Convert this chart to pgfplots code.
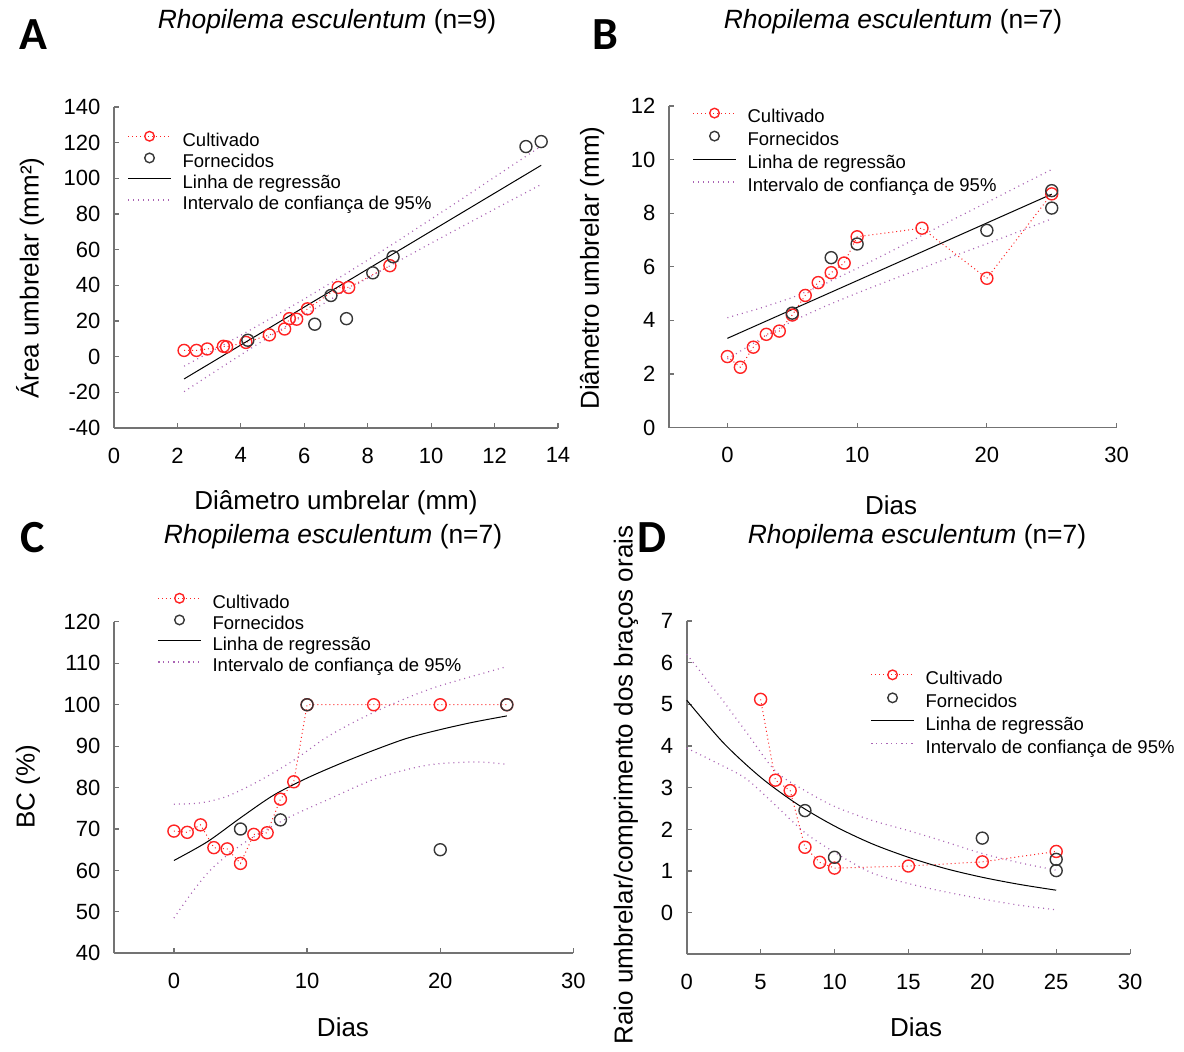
\documentclass[border=0pt]{standalone}
\usepackage{fontspec}
\setmainfont{Liberation Sans}
\newfontfamily\letterfont{Carlito}
\usepackage{pgfplots}
\pgfplotsset{compat=1.18}
\definecolor{cired}{RGB}{255,35,35}
\definecolor{cigray}{RGB}{55,55,55}
\definecolor{cipurp}{RGB}{170,100,180}
\definecolor{axgray}{RGB}{115,115,115}
\pgfplotsset{
  panel/.style={
    scale only axis, axis lines=left, axis line style={-, axgray, line width=0.9pt},
    tick align=inside, major tick length=2.5pt,
    every tick/.style={axgray, line width=0.6pt},
    tick label style={font=\fontsize{11}{12}\selectfont, black},
    /pgf/number format/assume math mode=true,
    xticklabel style={yshift=-6.3pt}, yticklabel style={xshift=-3.3pt},
    legend cell align=left,
    legend style={draw=none, fill=none, inner sep=0pt, anchor=north west,
      font=\fontsize{9.25}{11}\selectfont, row sep=0pt,
      nodes={inner sep=0pt, text height=7pt, text depth=3.5pt},
      /tikz/every odd column/.append style={column sep=5.5pt}},
    legend image code/.code={\draw[mark repeat=2,mark phase=2,##1,mark size=2.4pt] plot coordinates {(0pt,3.2pt) (10.75pt,3.2pt) (21.5pt,3.2pt)};},
    clip=false,
  },
  cult/.style={cired, line width=0.5pt, dash pattern=on 0.5pt off 1.5pt, mark=o, mark size=3pt, mark options={solid, line width=0.7pt}},
  forn/.style={cigray, only marks, mark=o, mark size=3pt, mark options={solid, line width=0.7pt}},
  regl/.style={black, line width=0.5pt, no marks, solid},
  cil/.style={cipurp, line width=0.6pt, dash pattern=on 0.5pt off 2pt, no marks},
}
\begin{document}
\begin{tikzpicture}
\path[use as bounding box] (0,0) rectangle (592pt,526pt);
% ---------------- A ----------------
\begin{axis}[panel, at={(57pt,312pt)}, anchor=south west, width=222pt, height=160.5pt,
  xmin=0, xmax=14, ymin=-40, ymax=140, xtick={0,2,...,14}, ytick={-40,-20,...,140},
  legend style={at={(0.0293,0.925)}}]
\addplot[cult] coordinates {(2.21,3.5)(2.6,3.5)(2.94,4.3)(3.45,5.8)(3.55,5.5)(4.16,8.0)(4.9,12.2)(5.38,15.5)(5.53,21.3)(5.76,21.0)(6.1,26.8)(7.07,38.8)(7.4,38.8)(8.7,51.0)};
\addlegendentry{Cultivado}
\addplot[forn] coordinates {(4.22,9.2)(6.33,18.2)(6.84,34.3)(7.33,21.3)(8.16,47)(8.8,56)(12.99,117.8)(13.47,120.6)};
\addlegendentry{Fornecidos}
\addplot[regl] coordinates {(2.21,-12.5)(13.47,107.3)};
\addlegendentry{Linha de regressão}
\addplot[cil] coordinates {(2.21,-5.35)(3,2.26)(4,11.98)(5,22.03)(6,32.32)(7,43.1)(8,54.16)(9,65.5)(10,77.15)(11,88.82)(12,100.67)(13.47,118.04)};
\addlegendentry{Intervalo de confiança de 95\%}
\addplot[cil, forget plot] coordinates {(2.21,-19.65)(3,-10.46)(4,1.02)(5,12.37)(6,23.28)(7,33.9)(8,44.04)(9,53.9)(10,63.65)(11,73.18)(12,82.73)(13.47,96.56)};
\end{axis}
% ---------------- B ----------------
\begin{axis}[panel, at={(334.5pt,312.2pt)}, anchor=south west, width=223.8pt, height=160.8pt,
  xmin=-4.5, xmax=30, ymin=0, ymax=12, xtick={0,10,20,30}, ytick={0,2,...,12},
  legend style={at={(0.0514,0.995)}, nodes={text height=7.5pt, text depth=4pt}}]
\addplot[cult] coordinates {(0,2.65)(1,2.25)(2,3.0)(3,3.48)(4,3.6)(5,4.2)(6,4.93)(7,5.41)(8,5.78)(9,6.14)(10,7.12)(15,7.44)(20,5.57)(25,8.72)};
\addlegendentry{Cultivado}
\addplot[forn] coordinates {(5,4.27)(8,6.34)(10,6.85)(20,7.36)(25,8.84)(25,8.19)};
\addlegendentry{Fornecidos}
\addplot[regl] coordinates {(0,3.33)(25,8.71)};
\addlegendentry{Linha de regressão}
\addplot[cil] coordinates {(0,4.10)(2.5,4.45)(5,4.85)(7.5,5.36)(10,5.94)(12.5,6.55)(15,7.17)(17.5,7.79)(20,8.40)(22.5,9.02)(25,9.63)};
\addlegendentry{Intervalo de confiança de 95\%}
\addplot[cil, forget plot] coordinates {(0,2.56)(2.5,3.29)(5,3.97)(7.5,4.52)(10,5.02)(12.5,5.49)(15,5.95)(17.5,6.41)(20,6.86)(22.5,7.32)(25,7.79)};
\end{axis}
% ---------------- C ----------------
\begin{axis}[panel, at={(57pt,49.35pt)}, anchor=south west, width=229.7pt, height=165.7pt,
  xmin=-4.5, xmax=30, ymin=40, ymax=120, xtick={0,10,20,30}, ytick={40,50,...,120},
  legend style={at={(0.0936,1.087)}}]
\addplot[cult] coordinates {(0,69.5)(1,69.2)(2,71.0)(3,65.5)(4,65.2)(5,61.7)(6,68.7)(7,69.1)(8,77.2)(9,81.4)(10,100)(15,100)(20,100)(25,100)};
\addlegendentry{Cultivado}
\addplot[forn] coordinates {(5,70.0)(8,72.2)(10,100)(20,65.0)(25,100)};
\addlegendentry{Fornecidos}
\addplot[regl, smooth] coordinates {(0,62.4)(2.5,66.9)(5,72.7)(7.5,78.2)(10,82.3)(12.5,85.8)(15,89.0)(17.5,91.9)(20,94.0)(22.5,95.8)(25,97.3)};
\addlegendentry{Linha de regressão}
\addplot[cil, smooth] coordinates {(0,76.0)(2,76.3)(4,77.9)(6.5,81.8)(9,86.6)(11.5,92.2)(14,96.6)(16.5,100.3)(19.7,104.3)(25,109.2)};
\addlegendentry{Intervalo de confiança de 95\%}
\addplot[cil, smooth, forget plot] coordinates {(0,48.5)(1.5,55.3)(3,60.9)(5.2,66.5)(8.5,72.6)(11.5,77.0)(15.2,82.2)(19,85.4)(22.7,86.2)(25,85.6)};
\end{axis}
% ---------------- D ----------------
\begin{axis}[panel, at={(343.35pt,48.8pt)}, anchor=south west, width=221.7pt, height=166.7pt,
  xmin=0, xmax=30, ymin=-1, ymax=7, xtick={0,5,...,30}, ytick={0,1,...,7},
  legend style={at={(0.4135,0.855)}, nodes={text height=7.5pt, text depth=4pt}}]
\addplot[cult] coordinates {(5,5.12)(6,3.18)(7,2.93)(8,1.57)(9,1.21)(10,1.07)(15,1.12)(20,1.22)(25,1.47)};
\addlegendentry{Cultivado}
\addplot[forn] coordinates {(8,2.45)(10,1.33)(20,1.79)(25,1.28)(25,1.01)};
\addlegendentry{Fornecidos}
\addplot[regl, smooth] coordinates {(0,5.1)(2.5,4.07)(5,3.25)(7.5,2.60)(10,2.08)(12.5,1.66)(15,1.33)(17.5,1.06)(20,0.85)(22.5,0.68)(25,0.54)};
\addlegendentry{Linha de regressão}
\addplot[cil, smooth] coordinates {(0,6.2)(2,5.3)(4,4.35)(6,3.4)(8,2.93)(10,2.55)(12.5,2.22)(15,1.97)(17.5,1.7)(20,1.42)(22.5,1.2)(25,1.02)};
\addlegendentry{Intervalo de confiança de 95\%}
\addplot[cil, smooth, forget plot] coordinates {(0,3.95)(2,3.6)(4,3.22)(6,2.58)(8,1.92)(10,1.45)(12.5,0.96)(15,0.7)(17.5,0.5)(20,0.33)(22.5,0.18)(25,0.07)};
\end{axis}
% ---------------- texts ----------------
\begin{scope}[every node/.style={inner sep=0pt}]
\node[font=\letterfont\bfseries\fontsize{23}{26}\selectfont] at (16.5pt,508.5pt) {A};
\node[font=\letterfont\bfseries\fontsize{23}{26}\selectfont] at (302.5pt,508.5pt) {B};
\node[font=\letterfont\bfseries\fontsize{23}{26}\selectfont] at (16.5pt,257pt) {C};
\node[font=\letterfont\bfseries\fontsize{23}{26}\selectfont] at (326pt,257pt) {D};
\node[font=\fontsize{13.2}{15}\selectfont] at (163.5pt,515pt) {\textit{Rhopilema esculentum} (n=9)};
\node[font=\fontsize{13.2}{15}\selectfont] at (446.5pt,515pt) {\textit{Rhopilema esculentum} (n=7)};
\node[font=\fontsize{13.2}{15}\selectfont] at (166.5pt,257.5pt) {\textit{Rhopilema esculentum} (n=7)};
\node[font=\fontsize{13.2}{15}\selectfont] at (458.5pt,257.5pt) {\textit{Rhopilema esculentum} (n=7)};
\node[font=\fontsize{13}{15}\selectfont] at (168pt,274.5pt) {Diâmetro umbrelar (mm)};
\node[font=\fontsize{13}{15}\selectfont, rotate=90] at (15pt,387pt) {Área umbrelar (mm²)};
\node[font=\fontsize{13}{15}\selectfont] at (445.5pt,273.5pt) {Dias};
\node[font=\fontsize{13}{15}\selectfont, rotate=90] at (296pt,392pt) {Diâmetro umbrelar (mm)};
\node[font=\fontsize{13}{15}\selectfont] at (171.5pt,12.5pt) {Dias};
\node[font=\fontsize{13}{15}\selectfont, rotate=90] at (14pt,132.5pt) {BC (\%)};
\node[font=\fontsize{13}{15}\selectfont] at (458pt,12.5pt) {Dias};
\node[font=\fontsize{13}{15}\selectfont, rotate=90] at (313pt,133.5pt) {Raio umbrelar/comprimento dos braços orais};
\end{scope}
\end{tikzpicture}
\end{document}
